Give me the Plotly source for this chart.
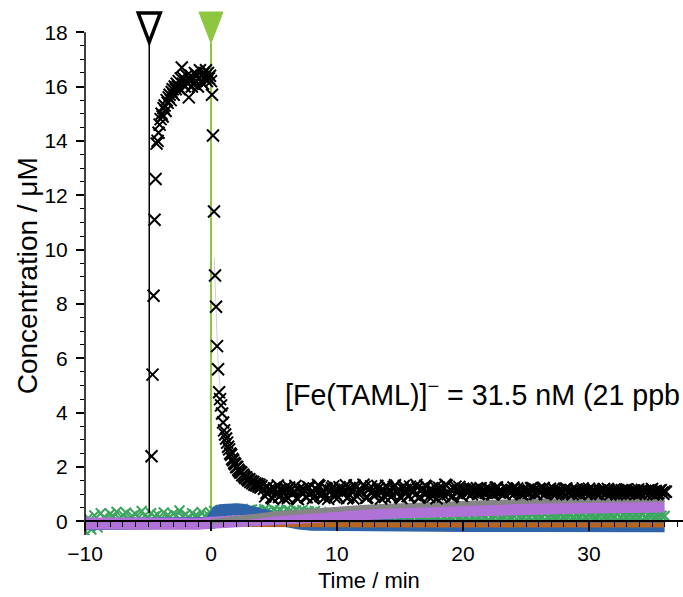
import numpy as np
import plotly.graph_objects as go

# ---------------- data ----------------
# event times (min): sample injection and catalyst addition
inject_time = -4.9
catalyst_time = 0.0

# main analyte (black crosses): fast-sampled part, dt = 0.08 min from -4.72 min
black_fast_t0, black_fast_dt = -4.72, 0.08
black_fast_y = [
    2.4, 5.4, 8.3, 11.1, 12.6, 13.9, 14.0, 14.3, 14.6, 14.8,
    15.0, 14.9, 15.2, 15.3, 15.1, 15.5, 15.4, 15.6, 15.7, 15.5,
    15.8, 15.9, 15.7, 16.0, 15.9, 16.1, 16.0, 16.2, 15.9, 16.3,
    16.7, 16.1, 16.3, 16.0, 16.2, 16.4, 16.1, 15.6, 16.2, 16.4,
    16.0, 16.3, 16.1, 16.5, 16.2, 16.4, 16.0, 16.3, 16.6, 16.2,
    16.4, 16.1, 16.5, 16.3, 16.6, 16.2, 16.5, 16.3, 16.4, 16.2,
    15.7, 14.2, 11.4, 9.05, 7.9, 6.45, 5.6, 4.75, 4.5, 4.27,
    3.97, 3.64, 3.35, 3.2, 3.05, 2.9, 2.75, 2.65, 2.5, 2.45,
    2.3, 2.25, 2.15, 2.1, 2.0, 2.0, 1.9, 1.85, 1.8, 1.8,
    1.7, 1.72, 1.65, 1.6, 1.62, 1.55, 1.5, 1.55, 1.45, 1.48,
    1.4, 1.45, 1.35, 1.4, 1.32, 1.38, 1.28, 1.35, 1.25, 1.3,
]
# main analyte, slow-sampled channel A, dt = 0.2 min from 4.2 min
black_a_t0, black_slow_dt = 4.2, 0.2
black_a_y = [
    1.2, 1.05, 1.15, 0.88, 1.22, 1.08, 0.9, 1.18, 0.85, 1.12,
    1.25, 1.02, 1.1, 0.86, 1.2, 1.05, 1.14, 0.89, 1.24, 1.07,
    0.92, 1.16, 1.3, 1.04, 0.87, 1.19, 1.09, 1.22, 0.9, 1.13,
    1.26, 1.05, 1.17, 0.85, 1.23, 1.1, 1.32, 0.92, 1.15, 1.08,
    1.27, 0.88, 1.2, 1.12, 0.94, 1.3, 1.09, 1.18, 0.9, 1.25,
    1.14, 0.96, 1.33, 1.1, 0.91, 1.21, 1.16, 0.93, 1.28, 1.12,
    0.97, 1.24, 0.9, 1.19, 1.31, 1.08, 1.15, 0.92, 1.26, 1.11,
    0.96, 1.22, 1.35, 1.0, 1.17, 0.94, 1.28, 1.12, 0.98, 1.2,
    1.12, 1.04, 1.2, 1.08, 1.15, 1.01, 1.22, 1.1, 1.05, 1.18,
    1.13, 1.0, 1.24, 1.09, 1.16, 1.03, 1.2, 1.11, 1.06, 1.25,
    1.08, 1.14, 1.02, 1.19, 1.1, 1.05, 1.22, 1.12, 1.01, 1.17,
    1.09, 1.23, 1.04, 1.13, 1.07, 1.2, 1.0, 1.15, 1.11, 1.06,
    1.21, 1.03, 1.12, 1.08, 1.18, 1.02, 1.14, 1.1, 1.05, 1.2,
    1.07, 1.16, 1.01, 1.12, 1.09, 1.19, 1.04, 1.13, 1.06, 1.17,
    1.0, 1.11, 1.15, 1.03, 1.18, 1.08, 1.05, 1.14, 1.1, 1.02,
    1.16, 1.07, 1.12, 1.04, 1.19, 1.09, 1.01, 1.13, 1.06, 1.1,
]
# main analyte, slow-sampled channel B, dt = 0.2 min from 4.3 min
black_b_t0 = 4.3
black_b_y = [
    0.92, 1.28, 1.1, 0.84, 1.18, 1.32, 0.95, 1.06, 1.24, 0.86,
    1.15, 1.02, 1.3, 0.82, 1.12, 1.21, 0.9, 1.27, 1.04, 0.85,
    1.19, 1.34, 0.93, 1.09, 1.23, 0.83, 1.14, 1.29, 1.0, 0.88,
    1.2, 1.07, 1.33, 0.9, 1.16, 0.84, 1.25, 1.03, 1.11, 1.35,
    0.87, 1.18, 1.29, 0.95, 1.06, 1.22, 0.84, 1.13, 1.31, 1.0,
    0.9, 1.26, 1.08, 1.17, 0.86, 1.3, 1.05, 0.93, 1.21, 1.12,
    1.34, 0.88, 1.15, 1.02, 1.28, 0.91, 1.19, 1.09, 0.85, 1.24,
    1.14, 0.96, 1.32, 1.06, 0.9, 1.2, 1.1, 1.27, 0.94, 1.16,
    1.06, 1.18, 1.0, 1.14, 1.22, 1.03, 1.1, 1.16, 1.05, 1.2,
    1.01, 1.13, 1.25, 1.07, 1.11, 1.02, 1.19, 1.09, 1.15, 1.04,
    1.21, 1.08, 1.0, 1.17, 1.12, 1.06, 1.23, 1.03, 1.14, 1.09,
    1.18, 1.01, 1.11, 1.2, 1.05, 1.13, 1.08, 1.16, 1.02, 1.19,
    1.07, 1.12, 1.0, 1.15, 1.1, 1.04, 1.21, 1.06, 1.13, 1.01,
    1.17, 1.09, 1.03, 1.14, 1.11, 1.05, 1.19, 1.0, 1.12, 1.08,
    1.15, 1.02, 1.1, 1.16, 1.04, 1.09, 1.13, 1.01, 1.18, 1.06,
    1.11, 1.03, 1.14, 1.07, 1.0, 1.12, 1.05, 1.15, 1.02, 1.09,
]

# decay model curve
fit_t = [0.26, 0.32, 0.4, 0.5, 0.6, 0.75, 1.0, 1.5, 2.0, 3.0, 4.0]
fit_y = [9.7, 8.8, 7.9, 6.5, 5.6, 4.8, 3.8, 2.6, 2.0, 1.5, 1.25]

# product (grey), sampled every minute from t = 0
gray_t = list(range(0, 37))
gray_y = [
    0.0, 0.06, 0.12, 0.17, 0.22, 0.27, 0.31, 0.35, 0.39, 0.42,
    0.45, 0.48, 0.51, 0.54, 0.56, 0.58, 0.6, 0.62, 0.64, 0.66,
    0.68, 0.7, 0.71, 0.72, 0.73, 0.74, 0.75, 0.76, 0.77, 0.78,
    0.79, 0.79, 0.8, 0.8, 0.8, 0.81, 0.81,
]

# purple species, every minute from t = -10
purple_t = list(range(-10, 37))
purple_y = [
    -0.08, -0.09, -0.1, -0.09, -0.08, -0.1, -0.09, -0.09, -0.08, -0.09,
    -0.05, -0.02, 0.03, 0.07, 0.1, 0.13, 0.15, 0.17, 0.19, 0.21,
    0.24, 0.27, 0.29, 0.31, 0.32, 0.34, 0.35, 0.37, 0.38, 0.39,
    0.41, 0.42, 0.43, 0.44, 0.45, 0.46, 0.47, 0.48, 0.49, 0.5,
    0.5, 0.51, 0.52, 0.53, 0.54, 0.55, 0.55,
]

# green species, dt = 0.25 min from t = -10
green_t0, green_dt = -10.0, 0.25
green_y = [
    -0.35, 0.12, -0.3, 0.22, -0.22, 0.3, 0.15, 0.05, 0.28, 0.18,
    0.35, 0.1, 0.24, 0.32, 0.08, 0.2, 0.27, 0.14, 0.38, 0.22,
    0.12, 0.3, 0.18, 0.25, 0.09, 0.33, 0.2, 0.15, 0.28, 0.22,
    0.4, 0.17, 0.26, 0.12, 0.3, 0.21, 0.16, 0.34, 0.19, 0.25,
    0.3, 0.38, 0.34, 0.42, 0.3, 0.4, 0.45, 0.34, 0.41, 0.37,
    0.46, 0.33, 0.4, 0.44, 0.36, 0.42, 0.32, 0.45, 0.39, 0.35,
    0.43, 0.37, 0.41, 0.34, 0.44, 0.38, 0.33, 0.4, 0.36, 0.42,
    0.31, 0.37, 0.33, 0.38, 0.3, 0.34,
    0.24, 0.2, 0.26, 0.18, 0.22, 0.25, 0.19, 0.23, 0.17, 0.21,
    0.24, 0.2, 0.18, 0.23, 0.21, 0.19, 0.25, 0.2, 0.22, 0.17,
    0.23, 0.19, 0.21, 0.24, 0.18, 0.2, 0.22, 0.19, 0.23, 0.21,
    0.17, 0.22, 0.2, 0.24, 0.19, 0.21, 0.18, 0.23, 0.2, 0.22,
    0.19, 0.24, 0.21, 0.18, 0.22, 0.2, 0.23, 0.19, 0.21, 0.17,
    0.22, 0.2, 0.24, 0.18, 0.21, 0.23, 0.19, 0.2, 0.22, 0.18,
    0.21, 0.24, 0.2, 0.19, 0.22, 0.17, 0.23, 0.2, 0.21, 0.19,
    0.24, 0.18, 0.22, 0.2, 0.21, 0.23, 0.19, 0.2, 0.22, 0.18,
    0.21, 0.2, 0.23, 0.19, 0.22, 0.2, 0.18, 0.21, 0.23, 0.2,
    0.19, 0.22, 0.2, 0.24, 0.18, 0.21, 0.2, 0.22, 0.19, 0.21,
    0.2, 0.23, 0.18, 0.21, 0.22, 0.19, 0.2, 0.21, 0.2,
]

# blue intermediate
blue_t = [-10, -8, -6, -4, -2, -0.25, 0.0, 0.15, 0.3, 0.5, 0.75, 1.0, 1.5, 2.0, 2.5,
          3.0, 3.5, 4.0, 4.5, 5.0, 6.0, 7.0, 8.0, 10, 12, 15, 20, 25, 30, 36]
blue_y = [-0.1, -0.1, -0.1, -0.1, -0.1, -0.1, -0.05, 0.12, 0.26, 0.36, 0.41, 0.44, 0.45, 0.45,
          0.43, 0.4, 0.35, 0.28, 0.2, 0.1, -0.02, -0.08, -0.12, -0.14, -0.15, -0.16, -0.17,
          -0.17, -0.18, -0.18]

# brown species
brown_t = [2, 4, 6, 8, 10, 15, 20, 25, 30, 36]
brown_y = [-0.11, -0.12, -0.12, -0.12, -0.12, -0.13, -0.13, -0.13, -0.13, -0.13]

# axes
x_range = [-10, 37.46]
y_range = [-0.5, 19.0]
y_ticks = list(range(0, 19, 2))
y_minor = list(np.arange(0, 18.01, 0.5))
label_text = "[Fe(TAML)]<sup>\u2212</sup> = 31.5 nM (21 ppb"

# ---------------- figure ----------------
FONT = "Liberation Sans, Arial, sans-serif"
C_PURPLE = "#b072d6"
C_GREEN = "#3da55f"
C_BLUE = "#2f64a8"
C_BROWN = "#b5651d"
C_GRAY = "#858585"
C_LIME = "#8dc63f"

black_fast_t = black_fast_t0 + black_fast_dt * np.arange(len(black_fast_y))
black_a_t = black_a_t0 + black_slow_dt * np.arange(len(black_a_y))
black_b_t = black_b_t0 + black_slow_dt * np.arange(len(black_b_y))
green_t = green_t0 + green_dt * np.arange(len(green_y))

fig = go.Figure()

fig.add_trace(go.Scatter(x=green_t, y=green_y, mode="markers",
                         marker=dict(symbol="x-thin", size=10,
                                     line=dict(color=C_GREEN, width=2))))
fig.add_trace(go.Scatter(x=blue_t, y=blue_y, mode="lines",
                         line=dict(color=C_BLUE, width=12)))
fig.add_trace(go.Scatter(x=brown_t, y=brown_y, mode="lines",
                         line=dict(color=C_BROWN, width=5)))
fig.add_trace(go.Scatter(x=purple_t, y=purple_y, mode="lines",
                         line=dict(color=C_PURPLE, width=12)))
fig.add_trace(go.Scatter(x=gray_t, y=gray_y, mode="lines",
                         line=dict(color=C_GRAY, width=5)))
fig.add_trace(go.Scatter(x=fit_t, y=fit_y, mode="lines",
                         line=dict(color="#cfcfcf", width=1, shape="spline")))
for tt, yy in ((black_fast_t, black_fast_y), (black_a_t, black_a_y), (black_b_t, black_b_y)):
    fig.add_trace(go.Scatter(x=tt, y=yy, mode="markers",
                             marker=dict(symbol="x-thin", size=12,
                                         line=dict(color="black", width=2))))

shapes = [
    # y axis line stops at the last major tick
    dict(type="line", xref="paper", yref="y", x0=0, x1=0, y0=y_range[0], y1=18,
         line=dict(color="black", width=1.5), layer="above"),
    # event markers
    dict(type="line", xref="x", yref="y", x0=inject_time, x1=inject_time,
         y0=0.3, y1=17.6, line=dict(color="black", width=1.5), layer="above"),
    dict(type="line", xref="x", yref="y", x0=catalyst_time, x1=catalyst_time,
         y0=0.3, y1=17.6, line=dict(color=C_LIME, width=2), layer="below"),
    dict(type="path", xref="x", yref="y", xsizemode="pixel", ysizemode="pixel",
         xanchor=inject_time, yanchor=17.6, path="M -11,30 L 11,30 L 0,1 Z",
         fillcolor="white", line=dict(color="black", width=3.5), layer="above"),
    dict(type="path", xref="x", yref="y", xsizemode="pixel", ysizemode="pixel",
         xanchor=catalyst_time, yanchor=17.6, path="M -12,31 L 12,31 L 0,0 Z",
         fillcolor=C_LIME, line=dict(color=C_LIME, width=1), layer="above"),
]

annotations = [
    dict(text=label_text, xref="x", yref="y", x=5.7, y=4.72,
         xanchor="left", yanchor="middle", showarrow=False,
         font=dict(family=FONT, size=28.6, color="black")),
    dict(text="Time / min", xref="paper", yref="paper", x=0.475, y=-0.085,
         xanchor="center", yanchor="middle", showarrow=False,
         font=dict(family=FONT, size=22, color="black")),
    dict(text="Concentration / \u03bcM", xref="paper", yref="paper", x=-0.097, y=0.49,
         xanchor="center", yanchor="middle", textangle=-90, showarrow=False,
         font=dict(family=FONT, size=28, color="black")),
]

fig.update_layout(
    width=683, height=597,
    margin=dict(l=85, r=0, t=5, b=62, pad=0),
    paper_bgcolor="white", plot_bgcolor="white",
    showlegend=False,
    font=dict(family=FONT, size=21, color="black"),
    shapes=shapes,
    annotations=annotations,
    xaxis=dict(
        range=x_range, anchor="free", position=(0 - y_range[0]) / (y_range[1] - y_range[0]),
        showline=True, linecolor="black", linewidth=1.5,
        showgrid=False, zeroline=False,
        tickmode="linear", tick0=0, dtick=10,
        ticks="outside", ticklen=9, tickwidth=1.5, tickcolor="black",
        ticklabelstandoff=5,
        minor=dict(tickmode="linear", tick0=0, dtick=1, ticks="outside",
                   ticklen=5, tickwidth=1.2, tickcolor="black", showgrid=False),
        tickfont=dict(family=FONT, size=21),
    ),
    yaxis=dict(
        range=y_range, showline=False, showgrid=False, zeroline=False,
        tickmode="array", tickvals=y_ticks,
        ticks="outside", ticklen=8, tickwidth=1.5, tickcolor="black",
        ticklabelstandoff=4,
        minor=dict(tickmode="array", tickvals=y_minor, ticks="outside",
                   ticklen=4, tickwidth=1.2, tickcolor="black", showgrid=False),
        tickfont=dict(family=FONT, size=21),
    ),
)

fig.write_html("out.html")
